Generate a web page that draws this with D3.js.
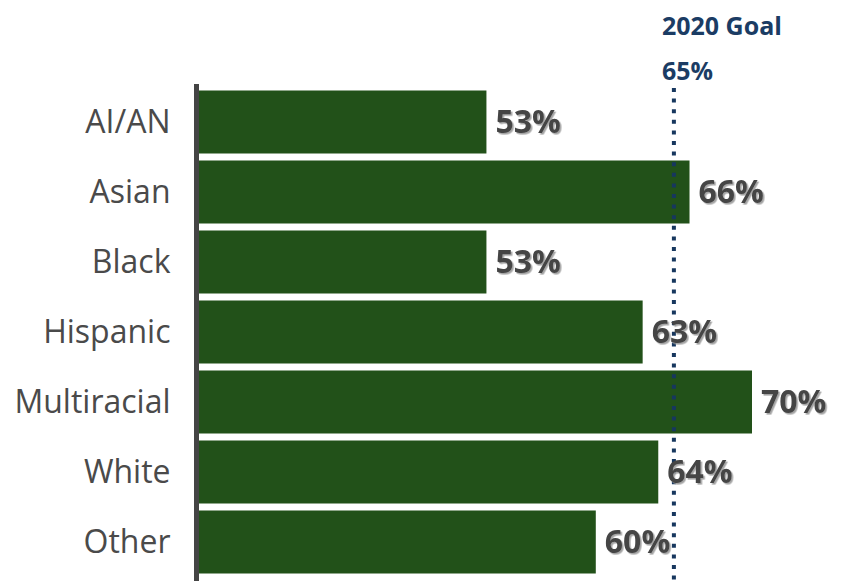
<!DOCTYPE html>
<meta charset="utf-8">
<title>2020 Goal</title>
<body>
<script src="https://cdn.jsdelivr.net/npm/d3@7/dist/d3.min.js"></script>
<style>
html, body {
    margin: 0;
    background: #fff;
}
svg {
    display: block;
}
.cat {
    font-family: "Open Sans", sans-serif;
    font-size: 32px;
    fill: #4a4a4a;
}
.val {
    font-family: "Open Sans", sans-serif;
    font-weight: bold;
    font-size: 32px;
    fill: #444;
}
.goal {
    font-family: "Open Sans", sans-serif;
    font-weight: bold;
    font-size: 25px;
    fill: #1b3c64;
}
</style>
<svg>
    <defs>
        <filter id="shadow" x="-10%" y="-20%" width="130%" height="150%">
            <feDropShadow dx="1.6" dy="1.6" stdDeviation="0.7" flood-color="#9a9a9a" flood-opacity="0.9"/>
        </filter>
    </defs>
</svg>
<script>
var categories = ["AI/AN", "Asian", "Black", "Hispanic", "Multiracial", "White", "Other"],
    values = [53, 66, 53, 63, 70, 64, 60],
    goal = 65,
    goalLabel = "2020 Goal";

var width = 842,
    height = 581;

var svg = d3.select("svg")
    .attr("width", width)
    .attr("height", height);

var x = d3.scaleLinear()
    .domain([34.6, 70])
    .range([199, 752]);

var y = d3.scaleBand()
    .domain(categories)
    .range([87, 577])
    .paddingInner(0.1)
    .paddingOuter(0.05);

var data = categories.map(function(c, i) {
    return {name: c, value: values[i]};
});

// bars
svg.selectAll("rect.bar")
    .data(data)
    .enter().append("rect")
    .attr("class", "bar")
    .attr("fill", "#225119")
    .attr("x", x(34.6))
    .attr("y", function(d) { return y(d.name); })
    .attr("width", function(d) { return x(d.value) - x(34.6); })
    .attr("height", y.bandwidth());

// goal line
svg.append("line")
    .attr("x1", x(goal))
    .attr("x2", x(goal))
    .attr("y1", 88)
    .attr("y2", height)
    .attr("stroke", "#17375e")
    .attr("stroke-width", 4)
    .attr("stroke-dasharray", "4,6.6");

svg.append("text")
    .attr("class", "goal")
    .attr("x", x(goal) - 12)
    .attr("y", 35)
    .text(goalLabel);

svg.append("text")
    .attr("class", "goal")
    .attr("x", x(goal) - 12)
    .attr("y", 80)
    .text(goal + "%");

// left axis
var axis = svg.append("g")
    .attr("transform", "translate(196.5,0)")
    .call(d3.axisLeft(y).tickSize(0).tickPadding(26));

axis.select(".domain")
    .attr("d", "M0,84V" + height)
    .attr("stroke", "#444")
    .attr("stroke-width", 5);

axis.selectAll(".tick text")
    .attr("class", "cat")
    .attr("fill", null)
    .attr("font-size", null)
    .attr("font-family", null)
    .attr("dy", "0.35em");

// value labels
svg.selectAll("text.val")
    .data(data)
    .enter().append("text")
    .attr("class", "val")
    .attr("filter", "url(#shadow)")
    .attr("x", function(d) { return x(d.value) + 9; })
    .attr("y", function(d) { return y(d.name) + y.bandwidth() / 2; })
    .attr("dy", "0.35em")
    .text(function(d) { return d.value + "%"; });
</script>
